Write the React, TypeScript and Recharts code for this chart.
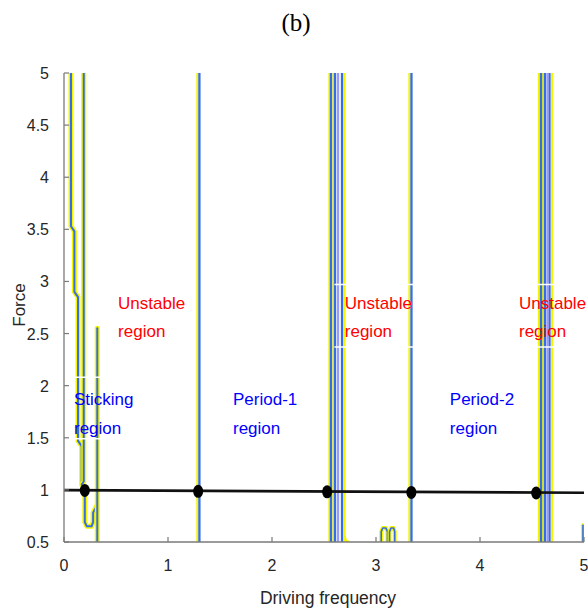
import React from 'react';
import { ComposedChart, Line, XAxis, YAxis, ReferenceLine, ReferenceDot, Scatter } from 'recharts';

// ---------- data ----------
const xTicks = [0, 1, 2, 3, 4, 5];
const yTicks = [0.5, 1, 1.5, 2, 2.5, 3, 3.5, 4, 4.5, 5];

// full-height contour lines (driving frequency positions)
const yellowLinesX = [1.283, 2.553, 2.591, 2.697, 3.322, 4.567, 4.606, 4.692];
const blueLinesX = [1.302, 2.567, 2.606, 2.673, 3.341, 4.587, 4.625, 4.668];
const lightBlueLinesX = [2.635, 4.65];

// sticking-region contours
const stickingBoundary = [
  { x: 0.067, y: 5 }, { x: 0.067, y: 3.53 }, { x: 0.1, y: 3.48 }, { x: 0.1, y: 2.9 },
  { x: 0.135, y: 2.85 }, { x: 0.135, y: 1.47 }, { x: 0.17, y: 1.42 }, { x: 0.17, y: 1.07 },
  { x: 0.2, y: 1.02 }, { x: 0.2, y: 0.69 }, { x: 0.22, y: 0.65 }, { x: 0.265, y: 0.65 },
  { x: 0.28, y: 0.69 }, { x: 0.28, y: 0.78 }, { x: 0.3, y: 0.82 }, { x: 0.318, y: 0.85 },
];
const stickingInner = [{ x: 0.19, y: 5 }, { x: 0.19, y: 1.08 }, { x: 0.17, y: 1.05 }];
const stickingEdge = [{ x: 0.32, y: 0.5 }, { x: 0.32, y: 2.55 }];

// small contours at the bottom
const bumpA = [{ x: 3.05, y: 0.5 }, { x: 3.05, y: 0.6 }, { x: 3.065, y: 0.634 }, { x: 3.095, y: 0.634 }, { x: 3.11, y: 0.6 }, { x: 3.11, y: 0.5 }];
const bumpB = [{ x: 3.13, y: 0.5 }, { x: 3.13, y: 0.6 }, { x: 3.145, y: 0.634 }, { x: 3.17, y: 0.634 }, { x: 3.18, y: 0.6 }, { x: 3.18, y: 0.5 }];
const footC = [{ x: 2.697, y: 0.56 }, { x: 2.712, y: 0.51 }, { x: 2.745, y: 0.5 }];
const cornerD = [{ x: 4.99, y: 0.5 }, { x: 4.99, y: 0.66 }];

// text box edges (white)
const boxEdges = [
  { x1: 0.05, x2: 0.6, y: 2.08 }, { x1: 0.05, x2: 0.6, y: 1.49 },
  { x1: 2.6, x2: 3.36, y: 2.97 }, { x1: 2.6, x2: 3.36, y: 2.37 },
  { x1: 4.45, x2: 5, y: 2.97 }, { x1: 4.45, x2: 5, y: 2.37 },
];

// black boundary line and points
const boundaryLine = [{ x: 0, y: 0.998 }, { x: 5, y: 0.972 }];
const boundaryDots = [
  { x: 0.2, y: 0.995 }, { x: 1.29, y: 0.986 }, { x: 2.53, y: 0.981 },
  { x: 3.34, y: 0.976 }, { x: 4.54, y: 0.97 },
];

// region labels
const regionLabels = [
  { x: 0.52, y: 2.74, text: 'Unstable', color: '#ff0000' },
  { x: 0.52, y: 2.465, text: 'region', color: '#ff0000' },
  { x: 0.096, y: 1.815, text: 'Sticking', color: '#0000ff' },
  { x: 0.096, y: 1.54, text: 'region', color: '#0000ff' },
  { x: 1.625, y: 1.815, text: 'Period-1', color: '#0000ff' },
  { x: 1.625, y: 1.54, text: 'region', color: '#0000ff' },
  { x: 2.7, y: 2.74, text: 'Unstable', color: '#ff0000' },
  { x: 2.7, y: 2.465, text: 'region', color: '#ff0000' },
  { x: 3.71, y: 1.815, text: 'Period-2', color: '#0000ff' },
  { x: 3.71, y: 1.54, text: 'region', color: '#0000ff' },
  { x: 4.375, y: 2.74, text: 'Unstable', color: '#ff0000' },
  { x: 4.375, y: 2.465, text: 'region', color: '#ff0000' },
];

// ---------- styles ----------
const YELLOW = '#f5f500';
const BLUE = '#356ce8';
const LIGHTBLUE = '#9a9cf6';
const AXIS = '#7a7a7a';
const TXT = '#262626';
const FONT = '"Liberation Sans", Arial, sans-serif';

const vertical = (x: number) => [{ x, y: 0.5 }, { x, y: 5 }];

const BottomTick = (p: any) => (
  <g>
    <line x1={p.x} y1={p.y} x2={p.x} y2={p.y - 5} stroke={AXIS} strokeWidth={1.2} />
    <text x={p.x} y={p.y + 29} textAnchor="middle" fontSize={16} fill={TXT} fontFamily={FONT}>{p.payload.value}</text>
  </g>
);
const TopTick = (p: any) => (
  <line x1={p.x} y1={p.y} x2={p.x} y2={p.y + 5} stroke={AXIS} strokeWidth={1.2} />
);
const LeftTick = (p: any) => (
  <g>
    <line x1={p.x} y1={p.y} x2={p.x + 5} y2={p.y} stroke={AXIS} strokeWidth={1.2} />
    <text x={p.x - 15} y={p.y + 6} textAnchor="end" fontSize={16} fill={TXT} fontFamily={FONT}>{p.payload.value}</text>
  </g>
);
const RightTick = (p: any) => (
  <line x1={p.x} y1={p.y} x2={p.x - 5} y2={p.y} stroke={AXIS} strokeWidth={1.2} />
);

const contour = (key: string, data: any[], yellowW: number, blueW: number) => [
  <Line key={key + 'y'} data={data} dataKey="y" type="linear" stroke={YELLOW} strokeWidth={yellowW} dot={false} activeDot={false} isAnimationActive={false} strokeLinejoin="round" strokeLinecap="round" />,
  <Line key={key + 'b'} data={data} dataKey="y" type="linear" stroke={BLUE} strokeWidth={blueW} dot={false} activeDot={false} isAnimationActive={false} strokeLinejoin="round" strokeLinecap="round" />,
];

export default function App() {
  return (
    <div style={{ position: 'absolute', left: 0, top: 0, width: 588, height: 611, background: '#fff' }}>
      <svg width={588} height={50} style={{ position: 'absolute', left: 0, top: 0 }}>
        <text x={296} y={31} textAnchor="middle" fontSize={25} fill="#000" fontFamily='"Liberation Serif", "Times New Roman", serif'>(b)</text>
      </svg>
      <div style={{ position: 'absolute', left: 0, top: 0 }}>
        <ComposedChart width={588} height={611} margin={{ top: 73, right: 4, bottom: 0, left: 0 }}>
          <XAxis xAxisId={0} type="number" dataKey="x" domain={[0, 5]} ticks={xTicks} interval={0}
            allowDataOverflow height={69} tickSize={0} tickMargin={0} tickLine={false}
            axisLine={{ stroke: AXIS, strokeWidth: 1.3 }} tick={BottomTick}
            label={{
              content: (p: any) => (
                <text x={328} y={604} textAnchor="middle" fontSize={17.5} fill={TXT} fontFamily={FONT}>Driving frequency</text>
              ),
            }} />
          <XAxis xAxisId="top" orientation="top" type="number" dataKey="x" domain={[0, 5]} ticks={xTicks} interval={0}
            allowDataOverflow height={0} tickSize={0} tickMargin={0} tickLine={false}
            axisLine={{ stroke: AXIS, strokeWidth: 1.3 }} tick={TopTick} />
          <YAxis yAxisId={0} type="number" dataKey="y" domain={[0.5, 5]} ticks={yTicks} interval={0}
            allowDataOverflow width={64} tickSize={0} tickMargin={0} tickLine={false}
            axisLine={{ stroke: AXIS, strokeWidth: 1.3 }} tick={LeftTick}
            label={{
              content: (p: any) => (
                <text x={25} y={305} transform="rotate(-90 25 305)" textAnchor="middle" fontSize={17} fill={TXT} fontFamily={FONT}>Force</text>
              ),
            }} />
          <YAxis yAxisId="right" orientation="right" type="number" dataKey="y" domain={[0.5, 5]} ticks={yTicks} interval={0}
            allowDataOverflow width={0} tickSize={0} tickMargin={0} tickLine={false}
            axisLine={{ stroke: AXIS, strokeWidth: 1.3 }} tick={RightTick} />

          {yellowLinesX.map((x, i) => (
            <Line key={'yl' + i} data={vertical(x)} dataKey="y" stroke={YELLOW} strokeWidth={2.3} dot={false} activeDot={false} isAnimationActive={false} />
          ))}
          {blueLinesX.map((x, i) => (
            <Line key={'bl' + i} data={vertical(x)} dataKey="y" stroke={BLUE} strokeWidth={2.3} dot={false} activeDot={false} isAnimationActive={false} />
          ))}
          {lightBlueLinesX.map((x, i) => (
            <Line key={'lb' + i} data={vertical(x)} dataKey="y" stroke={LIGHTBLUE} strokeWidth={2.3} dot={false} activeDot={false} isAnimationActive={false} />
          ))}

          {contour('sb', stickingBoundary, 5, 2)}
          {contour('si', stickingInner, 5, 2)}
          {contour('se', stickingEdge, 5, 2)}
          {contour('ba', bumpA, 4, 1.6)}
          {contour('bb', bumpB, 4, 1.6)}
          {contour('cd', cornerD, 4, 1.6)}
          <Line data={footC} dataKey="y" stroke={YELLOW} strokeWidth={2.3} dot={false} activeDot={false} isAnimationActive={false} />

          {boxEdges.map((e, i) => (
            <ReferenceLine key={'be' + i} segment={[{ x: e.x1, y: e.y }, { x: e.x2, y: e.y }]} stroke="#ffffff" strokeWidth={1.5} ifOverflow="visible" />
          ))}

          <Line data={boundaryLine} dataKey="y" stroke="#111111" strokeWidth={2.6} dot={false} activeDot={false} isAnimationActive={false} />
          <Scatter data={boundaryDots} dataKey="y" isAnimationActive={false}
            shape={(p: any) => <ellipse cx={p.cx} cy={p.cy} rx={5} ry={6.5} fill="#000" />} />

          {regionLabels.map((l, i) => (
            <ReferenceDot key={'lab' + i} x={l.x} y={l.y} r={0} ifOverflow="visible"
              shape={(p: any) => (
                <text x={p.cx} y={p.cy} textAnchor="start" fontSize={17} fill={l.color} fontFamily={FONT}>{l.text}</text>
              )} />
          ))}
        </ComposedChart>
      </div>
    </div>
  );
}
